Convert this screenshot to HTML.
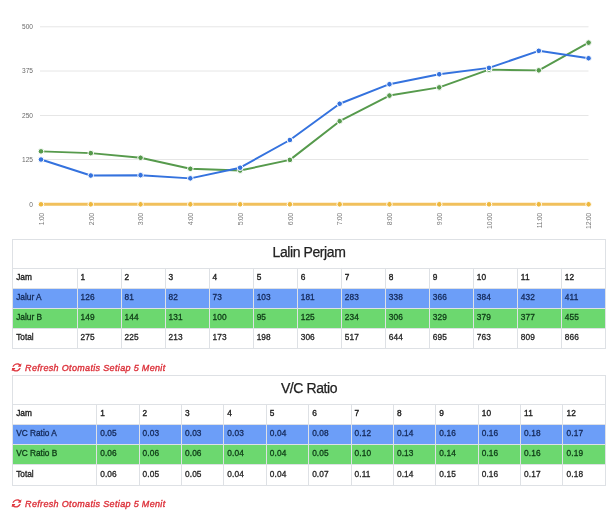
<!DOCTYPE html>
<html><head><meta charset="utf-8"><title>Lalin Perjam</title>
<style>
html,body{margin:0;padding:0;background:#fff;}
body{width:616px;height:514px;position:relative;overflow:hidden;font-family:"Liberation Sans",sans-serif;color:#212529;}
.chart{position:absolute;left:0;top:0;}
.yl{font-family:"Liberation Sans",sans-serif;font-size:6.6px;fill:#6a6a6a;}
.xl{font-family:"Liberation Sans",sans-serif;font-size:7px;letter-spacing:-0.35px;fill:#7a7a7a;}
table{position:absolute;left:12px;width:594px;border-collapse:collapse;table-layout:fixed;font-size:8.3px;}
td{border:1px solid #dee1e5;padding:0 0 2px 3px;height:17px;vertical-align:middle;font-weight:normal;-webkit-text-stroke-width:0.3px;color:#262626;letter-spacing:0.12px;}
tr.hr td{-webkit-text-stroke-width:0.36px;color:#222;}
td.f{letter-spacing:0px;padding-left:3.2px;}
tr.hd td{height:24px;text-align:center;font-size:14px;font-weight:normal;padding:0 0 3.5px 0;color:#222;letter-spacing:-0.42px;-webkit-text-stroke:0.25px #222;}
td.f{-webkit-text-stroke-width:0.32px;}
tr.a td{background:#6c9ef8;color:#152a5a;}
tr.b td{background:#6cd86f;color:#0f3d17;}
.t1{top:239px;} .t1 col.c0{width:64.5px;}
.t2{top:375px;} .t2 tr:last-child td{height:18px;} .t2 col.c0{width:84.2px;}
.rf{position:absolute;left:12.2px;font-size:9px;letter-spacing:0.335px;font-style:italic;font-weight:normal;-webkit-text-stroke:0.35px #dc2f38;color:#dc2f38;white-space:nowrap;line-height:10px;}
.rf .ic{vertical-align:-1.15px;margin-left:0.2px;margin-right:3.5px;transform:skewX(-11deg);}
</style></head><body>
<svg class="chart" width="616" height="236" viewBox="0 0 616 236">
<line x1="40" x2="588.5" y1="204.30" y2="204.30" stroke="#e6e6e6" stroke-width="1"/>
<text x="33" y="206.70" text-anchor="end" class="yl">0</text>
<line x1="40" x2="588.5" y1="159.50" y2="159.50" stroke="#e6e6e6" stroke-width="1"/>
<text x="33" y="161.90" text-anchor="end" class="yl">125</text>
<line x1="40" x2="588.5" y1="115.50" y2="115.50" stroke="#e6e6e6" stroke-width="1"/>
<text x="33" y="117.90" text-anchor="end" class="yl">250</text>
<line x1="40" x2="588.5" y1="71.00" y2="71.00" stroke="#e6e6e6" stroke-width="1"/>
<text x="33" y="73.40" text-anchor="end" class="yl">375</text>
<line x1="40" x2="588.5" y1="26.80" y2="26.80" stroke="#e6e6e6" stroke-width="1"/>
<text x="33" y="29.20" text-anchor="end" class="yl">500</text>
<polyline points="41.00,204.30 90.78,204.30 140.56,204.30 190.34,204.30 240.12,204.30 289.90,204.30 339.68,204.30 389.46,204.30 439.24,204.30 489.02,204.30 538.80,204.30 588.58,204.30" fill="none" stroke="#f1c05c" stroke-width="3.1" stroke-linejoin="round"/>
<circle cx="41.00" cy="204.30" r="2.8" fill="#eeb73c" stroke="#fff" stroke-width="1"/>
<circle cx="90.78" cy="204.30" r="2.8" fill="#eeb73c" stroke="#fff" stroke-width="1"/>
<circle cx="140.56" cy="204.30" r="2.8" fill="#eeb73c" stroke="#fff" stroke-width="1"/>
<circle cx="190.34" cy="204.30" r="2.8" fill="#eeb73c" stroke="#fff" stroke-width="1"/>
<circle cx="240.12" cy="204.30" r="2.8" fill="#eeb73c" stroke="#fff" stroke-width="1"/>
<circle cx="289.90" cy="204.30" r="2.8" fill="#eeb73c" stroke="#fff" stroke-width="1"/>
<circle cx="339.68" cy="204.30" r="2.8" fill="#eeb73c" stroke="#fff" stroke-width="1"/>
<circle cx="389.46" cy="204.30" r="2.8" fill="#eeb73c" stroke="#fff" stroke-width="1"/>
<circle cx="439.24" cy="204.30" r="2.8" fill="#eeb73c" stroke="#fff" stroke-width="1"/>
<circle cx="489.02" cy="204.30" r="2.8" fill="#eeb73c" stroke="#fff" stroke-width="1"/>
<circle cx="538.80" cy="204.30" r="2.8" fill="#eeb73c" stroke="#fff" stroke-width="1"/>
<circle cx="588.58" cy="204.30" r="2.8" fill="#eeb73c" stroke="#fff" stroke-width="1"/>
<polyline points="41.00,151.36 90.78,153.14 140.56,157.76 190.34,168.77 240.12,170.55 289.90,159.89 339.68,121.16 389.46,95.58 439.24,87.41 489.02,69.64 538.80,70.35 588.58,42.64" fill="none" stroke="#569a4c" stroke-width="1.95" stroke-linejoin="round"/>
<circle cx="41.00" cy="151.36" r="2.8" fill="#569a4c" stroke="#fff" stroke-width="1"/>
<circle cx="90.78" cy="153.14" r="2.8" fill="#569a4c" stroke="#fff" stroke-width="1"/>
<circle cx="140.56" cy="157.76" r="2.8" fill="#569a4c" stroke="#fff" stroke-width="1"/>
<circle cx="190.34" cy="168.77" r="2.8" fill="#569a4c" stroke="#fff" stroke-width="1"/>
<circle cx="240.12" cy="170.55" r="2.8" fill="#569a4c" stroke="#fff" stroke-width="1"/>
<circle cx="289.90" cy="159.89" r="2.8" fill="#569a4c" stroke="#fff" stroke-width="1"/>
<circle cx="339.68" cy="121.16" r="2.8" fill="#569a4c" stroke="#fff" stroke-width="1"/>
<circle cx="389.46" cy="95.58" r="2.8" fill="#569a4c" stroke="#fff" stroke-width="1"/>
<circle cx="439.24" cy="87.41" r="2.8" fill="#569a4c" stroke="#fff" stroke-width="1"/>
<circle cx="489.02" cy="69.64" r="2.8" fill="#569a4c" stroke="#fff" stroke-width="1"/>
<circle cx="538.80" cy="70.35" r="2.8" fill="#569a4c" stroke="#fff" stroke-width="1"/>
<circle cx="588.58" cy="42.64" r="2.8" fill="#569a4c" stroke="#fff" stroke-width="1"/>
<polyline points="41.00,159.53 90.78,175.52 140.56,175.17 190.34,178.36 240.12,167.70 289.90,139.99 339.68,103.75 389.46,84.21 439.24,74.26 489.02,67.86 538.80,50.81 588.58,58.27" fill="none" stroke="#3472de" stroke-width="1.95" stroke-linejoin="round"/>
<circle cx="41.00" cy="159.53" r="2.8" fill="#3472de" stroke="#fff" stroke-width="1"/>
<circle cx="90.78" cy="175.52" r="2.8" fill="#3472de" stroke="#fff" stroke-width="1"/>
<circle cx="140.56" cy="175.17" r="2.8" fill="#3472de" stroke="#fff" stroke-width="1"/>
<circle cx="190.34" cy="178.36" r="2.8" fill="#3472de" stroke="#fff" stroke-width="1"/>
<circle cx="240.12" cy="167.70" r="2.8" fill="#3472de" stroke="#fff" stroke-width="1"/>
<circle cx="289.90" cy="139.99" r="2.8" fill="#3472de" stroke="#fff" stroke-width="1"/>
<circle cx="339.68" cy="103.75" r="2.8" fill="#3472de" stroke="#fff" stroke-width="1"/>
<circle cx="389.46" cy="84.21" r="2.8" fill="#3472de" stroke="#fff" stroke-width="1"/>
<circle cx="439.24" cy="74.26" r="2.8" fill="#3472de" stroke="#fff" stroke-width="1"/>
<circle cx="489.02" cy="67.86" r="2.8" fill="#3472de" stroke="#fff" stroke-width="1"/>
<circle cx="538.80" cy="50.81" r="2.8" fill="#3472de" stroke="#fff" stroke-width="1"/>
<circle cx="588.58" cy="58.27" r="2.8" fill="#3472de" stroke="#fff" stroke-width="1"/>
<text transform="translate(43.75,213.1) rotate(-90)" text-anchor="end" class="xl">1:00</text>
<text transform="translate(93.53,213.1) rotate(-90)" text-anchor="end" class="xl">2:00</text>
<text transform="translate(143.31,213.1) rotate(-90)" text-anchor="end" class="xl">3:00</text>
<text transform="translate(193.09,213.1) rotate(-90)" text-anchor="end" class="xl">4:00</text>
<text transform="translate(242.87,213.1) rotate(-90)" text-anchor="end" class="xl">5:00</text>
<text transform="translate(292.65,213.1) rotate(-90)" text-anchor="end" class="xl">6:00</text>
<text transform="translate(342.43,213.1) rotate(-90)" text-anchor="end" class="xl">7:00</text>
<text transform="translate(392.21,213.1) rotate(-90)" text-anchor="end" class="xl">8:00</text>
<text transform="translate(441.99,213.1) rotate(-90)" text-anchor="end" class="xl">9:00</text>
<text transform="translate(491.77,213.1) rotate(-90)" text-anchor="end" class="xl">10:00</text>
<text transform="translate(541.55,213.1) rotate(-90)" text-anchor="end" class="xl">11:00</text>
<text transform="translate(591.33,213.1) rotate(-90)" text-anchor="end" class="xl">12:00</text>
</svg>
<table class="t1"><colgroup><col class="c0"><col><col><col><col><col><col><col><col><col><col><col><col></colgroup><tr class="hd"><td colspan="13">Lalin Perjam</td></tr>
<tr class="hr"><td class="f">Jam</td><td>1</td><td>2</td><td>3</td><td>4</td><td>5</td><td>6</td><td>7</td><td>8</td><td>9</td><td>10</td><td>11</td><td>12</td></tr>
<tr class="a"><td class="f">Jalur A</td><td>126</td><td>81</td><td>82</td><td>73</td><td>103</td><td>181</td><td>283</td><td>338</td><td>366</td><td>384</td><td>432</td><td>411</td></tr>
<tr class="b"><td class="f">Jalur B</td><td>149</td><td>144</td><td>131</td><td>100</td><td>95</td><td>125</td><td>234</td><td>306</td><td>329</td><td>379</td><td>377</td><td>455</td></tr>
<tr class=""><td class="f">Total</td><td>275</td><td>225</td><td>213</td><td>173</td><td>198</td><td>306</td><td>517</td><td>644</td><td>695</td><td>763</td><td>809</td><td>866</td></tr>
</table>
<div class="rf" style="top:362.7px"><svg class="ic" width="9.2" height="8.7" viewBox="0 0 512 512" preserveAspectRatio="none"><path fill="#e03a42" d="M370.7 133.3C339.5 104 298.900 88 255.800 88c-77.500 .100-144.300 53.200-162.800 126.900-1.300 5.400-6.100 9.200-11.700 9.200H24.100c-7.500 0-13.200-6.800-11.800-14.200C33.900 94.900 134.800 8 256 8c66.400 0 126.800 26.100 171.300 68.700L463 41C478.100 25.900 504 36.600 504 57.900V192c0 13.300-10.700 24-24 24H345.900c-21.400 0-32.100-25.900-17-41l41.800-41.700zM32 296h134.100c21.400 0 32.100 25.900 17 41l-41.800 41.800c31.300 29.300 71.800 45.300 114.900 45.300 77.400-.1 144.300-53.100 162.800-126.800 1.300-5.400 6.100-9.200 11.700-9.200h57.300c7.500 0 13.200 6.800 11.800 14.200C478.100 417.100 377.200 504 256 504c-66.400 0-126.800-26.100-171.300-68.700L49 471c-15.100 15.100-41 4.400-41-16.900V320c0-13.300 10.700-24 24-24z"/></svg>Refresh Otomatis Setiap 5 Menit</div>
<table class="t2"><colgroup><col class="c0"><col><col><col><col><col><col><col><col><col><col><col><col></colgroup><tr class="hd"><td colspan="13">V/C Ratio</td></tr>
<tr class="hr"><td class="f">Jam</td><td>1</td><td>2</td><td>3</td><td>4</td><td>5</td><td>6</td><td>7</td><td>8</td><td>9</td><td>10</td><td>11</td><td>12</td></tr>
<tr class="a"><td class="f">VC Ratio A</td><td>0.05</td><td>0.03</td><td>0.03</td><td>0.03</td><td>0.04</td><td>0.08</td><td>0.12</td><td>0.14</td><td>0.16</td><td>0.16</td><td>0.18</td><td>0.17</td></tr>
<tr class="b"><td class="f">VC Ratio B</td><td>0.06</td><td>0.06</td><td>0.06</td><td>0.04</td><td>0.04</td><td>0.05</td><td>0.10</td><td>0.13</td><td>0.14</td><td>0.16</td><td>0.16</td><td>0.19</td></tr>
<tr class=""><td class="f">Total</td><td>0.06</td><td>0.05</td><td>0.05</td><td>0.04</td><td>0.04</td><td>0.07</td><td>0.11</td><td>0.14</td><td>0.15</td><td>0.16</td><td>0.17</td><td>0.18</td></tr>
</table>
<div class="rf" style="top:498.8px"><svg class="ic" width="9.2" height="8.7" viewBox="0 0 512 512" preserveAspectRatio="none"><path fill="#e03a42" d="M370.7 133.3C339.5 104 298.900 88 255.800 88c-77.500 .100-144.300 53.200-162.800 126.900-1.300 5.400-6.100 9.200-11.700 9.200H24.100c-7.500 0-13.200-6.800-11.800-14.200C33.900 94.900 134.800 8 256 8c66.400 0 126.800 26.100 171.300 68.700L463 41C478.100 25.900 504 36.600 504 57.900V192c0 13.300-10.700 24-24 24H345.900c-21.400 0-32.100-25.900-17-41l41.800-41.700zM32 296h134.100c21.400 0 32.100 25.900 17 41l-41.800 41.800c31.300 29.300 71.800 45.300 114.900 45.300 77.400-.1 144.300-53.100 162.800-126.800 1.300-5.400 6.100-9.200 11.700-9.200h57.300c7.500 0 13.200 6.800 11.800 14.200C478.100 417.100 377.200 504 256 504c-66.400 0-126.800-26.100-171.300-68.700L49 471c-15.100 15.100-41 4.400-41-16.900V320c0-13.300 10.700-24 24-24z"/></svg>Refresh Otomatis Setiap 5 Menit</div>
</body></html>
